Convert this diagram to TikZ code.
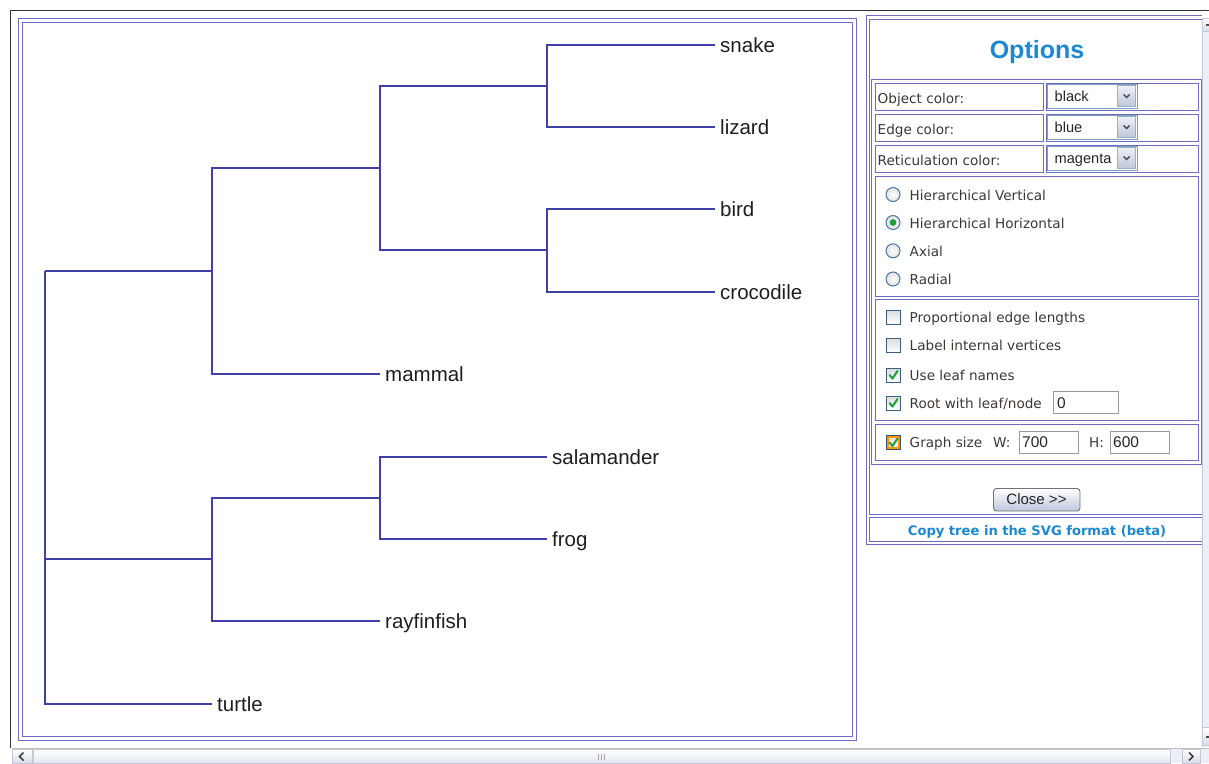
\documentclass[tikz,border=0pt]{standalone}
\usepackage{fontspec}
\setmainfont{Liberation Sans}
\newfontfamily\verd{DejaVu Sans}
\definecolor{panelblue}{RGB}{108,108,196}
\definecolor{edgeblue}{RGB}{64,64,168}
\definecolor{ptext}{RGB}{62,56,52}
\definecolor{titleblue}{RGB}{26,136,210}
\definecolor{ctrlborder}{RGB}{127,157,185}
\definecolor{btnlight}{RGB}{236,240,248}
\definecolor{btndark}{RGB}{190,198,218}
\definecolor{chkgreen}{RGB}{30,160,60}
\definecolor{radioborder}{RGB}{74,118,160}
\definecolor{sbtrack}{RGB}{236,239,246}
\definecolor{sbborder}{RGB}{196,200,212}
\begin{document}
\begin{tikzpicture}[x=1pt,y=-1pt,
  pb/.style={draw=panelblue, line width=1pt},
  edge/.style={draw=edgeblue, line width=1.5pt},
  leaf/.style={anchor=west, inner xsep=5pt, inner ysep=0pt, text height=14pt, text depth=0pt,
    font=\fontsize{20.5}{24}\selectfont, text=black!88},
  ptxt/.style={anchor=base west, inner sep=0pt, font=\verd\fontsize{13.6}{16}\selectfont, text=ptext},
  ddtxt/.style={anchor=base west, inner sep=0pt, font=\fontsize{14.6}{17}\selectfont, text=black!85},
  boxtxt/.style={anchor=base west, inner sep=0pt, font=\fontsize{15.5}{18}\selectfont, text=black!85},
  tbox/.style={draw=black!40, fill=white, line width=0.8pt},
  radio/.style={draw=radioborder, line width=1pt, inner color=white, outer color=black!12},
  chk/.style={draw=radioborder!80!black, line width=1pt, top color=black!14, bottom color=white},
  tick/.style={draw=chkgreen, line width=2pt, line cap=round, line join=round},
  sbbtn/.style={draw=sbborder, line width=0.6pt, top color=white, bottom color=btndark!60},
  glyph/.style={draw=black!75, line width=1.6pt}
]
\useasboundingbox (0,0) rectangle (1209,763);
\fill[white] (0,0) rectangle (1209,763);

% outer window frame
\draw[black!80, line width=1.6pt] (10.5,748) -- (10.5,10.5) -- (1209,10.5);

% ---------- left tree panel ----------
\draw[pb] (18,18) rectangle (856.5,740.5);
\draw[pb] (22,22) rectangle (852.5,736.5);

\coordinate (root) at (45,271);
\coordinate (n4) at (212,271);
\coordinate (n3) at (380,168);
\coordinate (n1) at (547,86);
\coordinate (n2) at (547,250);
\coordinate (n6) at (212,559);
\coordinate (n5) at (380,498);

\node[leaf] (snake) at (715,45) {snake};
\node[leaf] (lizard) at (715,127) {lizard};
\node[leaf] (bird) at (715,209) {bird};
\node[leaf] (crocodile) at (715,292) {crocodile};
\node[leaf] (mammal) at (380,374) {mammal};
\node[leaf] (salamander) at (547,457) {salamander};
\node[leaf] (frog) at (547,539) {frog};
\node[leaf] (rayfinfish) at (380,621) {rayfinfish};
\node[leaf] (turtle) at (212,704) {turtle};

\draw[edge] (n1) |- (snake.west);
\draw[edge] (n1) |- (lizard.west);
\draw[edge] (n2) |- (bird.west);
\draw[edge] (n2) |- (crocodile.west);
\draw[edge] (n3) |- (n1);
\draw[edge] (n3) |- (n2);
\draw[edge] (n4) |- (n3);
\draw[edge] (n4) |- (mammal.west);
\draw[edge] (n5) |- (salamander.west);
\draw[edge] (n5) |- (frog.west);
\draw[edge] (n6) |- (n5);
\draw[edge] (n6) |- (rayfinfish.west);
\draw[edge] (root) |- (n4);
\draw[edge] (root) |- (n6);
\draw[edge] (root) |- (turtle.west);

% ---------- right options panel ----------
\draw[pb] (1202,15.5) -- (866,15.5) -- (866,544) -- (1202,544);
\draw[pb] (1202,19) -- (869,19) -- (869,514) -- (1202,514);
\draw[pb] (1202,517.5) -- (869,517.5) -- (869,541) -- (1202,541);

\node[anchor=base, inner sep=0pt, font=\bfseries\fontsize{25}{30}\selectfont, text=titleblue]
  (title) at (1037,58.5) {Options};

\draw[pb] (871.5,79) rectangle (1201.5,464);
% colour rows
\foreach \r/\lab/\val [count=\i from 0] in {0/Object color:/black, 1/Edge color:/blue, 2/Reticulation color:/magenta}{
  \draw[pb] (875,83+31*\r) rectangle (1043,110+31*\r);
  \draw[pb] (1046,83+31*\r) rectangle (1198,110+31*\r);
  \node[ptxt] (lab\i) at (877.5,103+31*\r) {\lab};
  \draw[draw=ctrlborder, line width=1pt, fill=white] (1047.5,84+31*\r) rectangle (1137,108+31*\r);
  \shade[top color=btnlight, bottom color=btndark, draw=ctrlborder!80] (1117.5,85.5+31*\r) rectangle (1135.5,106.5+31*\r);
  \draw[draw=black!70, line width=1.4pt] (1123.5,94.5+31*\r) -- (1126.5,97.5+31*\r) -- (1129.5,94.5+31*\r);
  \node[ddtxt] (val\i) at (1054.5,101.7+31*\r) {\val};
}

% layout radio group
\draw[pb] (875,176) rectangle (1198,296);
\foreach \yy/\lab [count=\i] in {194.5/Hierarchical Vertical, 222.5/Hierarchical Horizontal, 250.8/Axial, 279/Radial}{
  \draw[radio] (893,\yy) circle (7);
  \node[ptxt] (rad\i) at (909.5,\yy+5.6) {\lab};
}
\fill[chkgreen] (893,222.5) circle (3.4);

% checkbox group
\draw[pb] (875,299) rectangle (1198,420.5);
\foreach \yy/\lab [count=\i] in {317/{Proportional edge lengths}, 345/{Label internal vertices}, 375/{Use leaf names}, 403/{Root with leaf/node}}{
  \draw[chk] (886.5,\yy-7) rectangle (900.5,\yy+7);
  \node[ptxt] (chk\i) at (909.5,\yy+5.5) {\lab};
}
\draw[tick] (889.5,375) -- (892.5,378.5) -- (897.5,371);
\draw[tick] (889.5,403) -- (892.5,406.5) -- (897.5,399);
\draw[tbox] (1053,391) rectangle (1118,413.5);
\node[boxtxt] (rootval) at (1057,408.5) {0};

% graph size
\draw[pb] (875,424) rectangle (1198,460);
\draw[chk, draw=radioborder!70!black] (886.5,435.5) rectangle (900.5,449.5);
\draw[draw=orange!85!yellow, line width=1.2pt] (888,437) rectangle (899,448);
\draw[tick] (889.5,442.5) -- (892.5,446) -- (897.5,438.5);
\node[ptxt] (gs) at (909.5,447.5) {Graph size};
\node[ptxt] (wl) at (993,447.5) {W:};
\draw[tbox] (1019,431) rectangle (1078,453.5);
\node[boxtxt] (wval) at (1022,447.5) {700};
\node[ptxt] (hl) at (1089,447.5) {H:};
\draw[tbox] (1110,431) rectangle (1169,453.5);
\node[boxtxt] (hval) at (1113,447.5) {600};

% close button
\shade[top color=white, bottom color=btndark, draw=black!55, rounded corners=3pt, line width=0.9pt]
  (993.5,488.5) rectangle (1080,511);
\node[anchor=base, inner sep=0pt, font=\fontsize{15}{18}\selectfont, text=black!85] (close) at (1036.5,504) {Close {>}{>}};

% copy link
\node[anchor=base, inner sep=0pt, font=\verd\bfseries\fontsize{13.1}{16}\selectfont, text=titleblue]
  (copy) at (1037,535) {Copy tree in the SVG format (beta)};

% ---------- scrollbars ----------
% vertical
\fill[sbtrack] (1202.5,18) rectangle (1209,747);
\draw[sbborder, line width=0.8pt] (1202.5,18) -- (1202.5,747);
\shade[sbbtn] (1202.5,18) rectangle (1209,31);
\draw[black!70, line width=1.2pt] (1206,25) -- (1209,25);
\shade[sbbtn] (1202.5,727) rectangle (1209,745);
\draw[black!70, line width=1.2pt] (1206,737) -- (1209,737);
% horizontal
\fill[sbtrack] (11.5,748) rectangle (1209,763);
\draw[black!25, line width=1pt] (11.5,748) -- (1209,748);
\shade[sbbtn] (12.5,749.5) rectangle (32,763);
\draw[glyph] (23.5,752.5) -- (19.5,756.5) -- (23.5,760.5);
\shade[top color=white, bottom color=sbtrack!80!btndark, draw=sbborder, line width=0.6pt] (33.5,749.5) rectangle (1170,763);
\foreach \gx in {598,601,604}{ \draw[black!35, line width=0.8pt] (\gx,754) -- (\gx,760); }
\shade[sbbtn] (1182,749.5) rectangle (1200,763);
\draw[glyph] (1189,752.5) -- (1193,756.5) -- (1189,760.5);
\end{tikzpicture}
\end{document}
